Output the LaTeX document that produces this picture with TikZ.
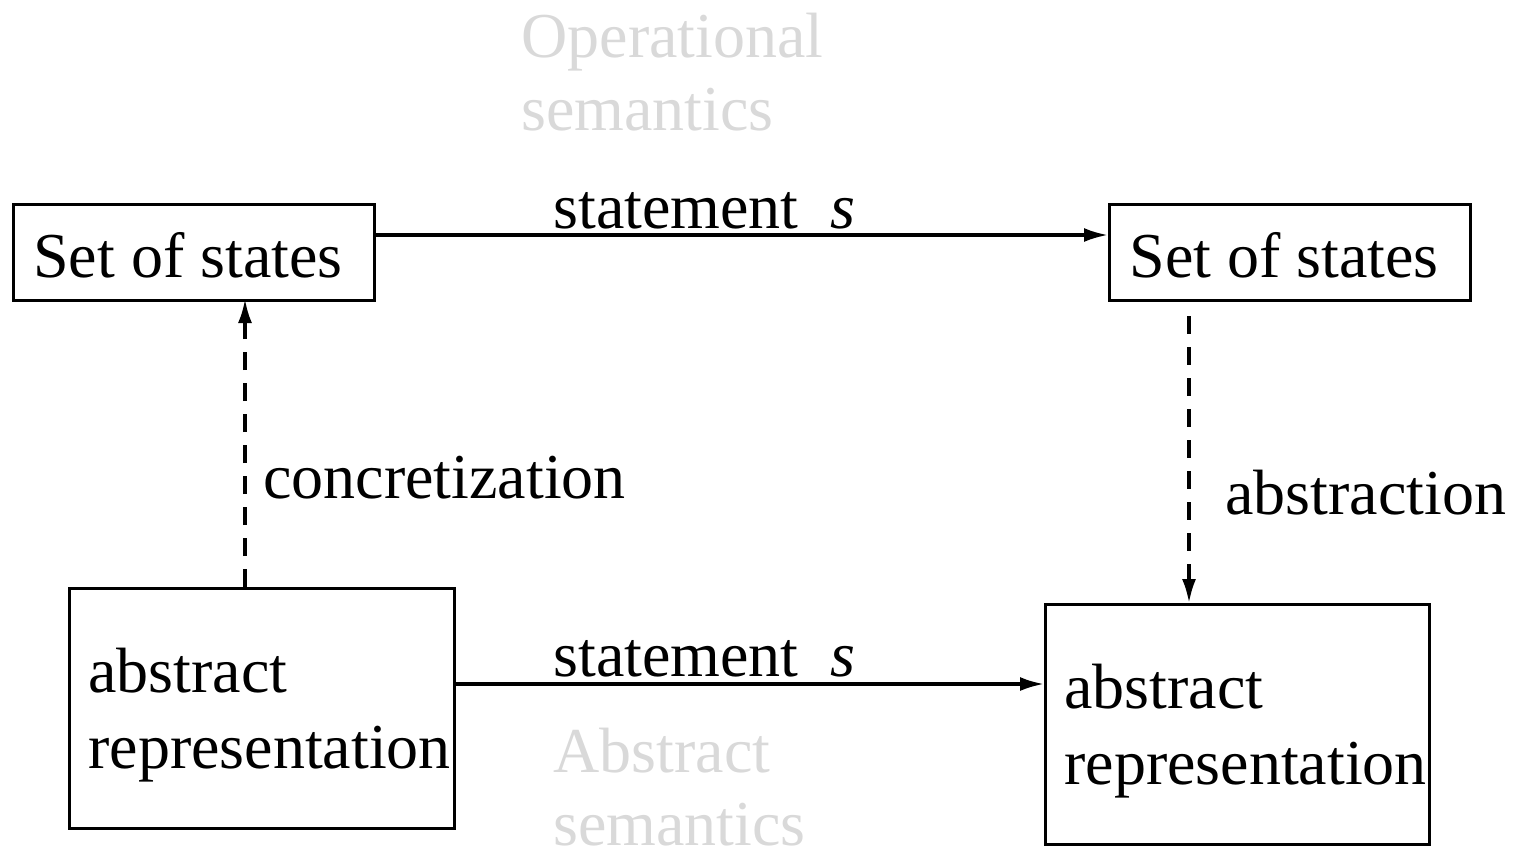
\documentclass[tikz,border=0pt]{standalone}
\usepackage{fontspec}
\setmainfont{Liberation Serif}
\usetikzlibrary{arrows.meta}
\begin{document}
\begin{tikzpicture}[x=0.5pt,y=-0.5pt,
  box/.style={draw,line width=1.6pt,inner sep=0pt,anchor=north west},
  txt/.style={inner sep=0pt,font=\fontsize{32}{38}\selectfont},
  faint/.style={inner sep=0pt,text=black!15,align=left,anchor=north west,font=\fontsize{32}{36.5}\selectfont},
  flow/.style={line width=1.6pt,-{Latex[length=12pt,width=7pt]}},
  link/.style={flow,dash pattern=on 9pt off 6.5pt}]
\useasboundingbox (0,0) rectangle (1513,851);

% boxes
\node[box,minimum width=180.5pt,minimum height=48pt] (tl) at (12,203) {};
\node[box,minimum width=180.5pt,minimum height=48pt] (tr) at (1108,203) {};
\node[box,minimum width=192.5pt,minimum height=120pt] (bl) at (68,587) {};
\node[box,minimum width=192pt,minimum height=120pt] (br) at (1044,603) {};

% box contents
\node[txt,anchor=base west] (tlt) at (33,277) {Set of states};
\node[txt,anchor=base west] (trt) at (1129,277) {Set of states};
\node[txt,anchor=north west,align=left] (blt) at (88,648) {abstract\\representation};
\node[txt,anchor=north west,align=left] (brt) at (1064,664) {abstract\\representation};

% semantics titles
\node[faint] (op) at (521,13) {Operational\\semantics};
\node[faint] (ab) at (553,728) {Abstract\\semantics};

% transitions
\draw[flow] (tl.east |- 0,235) -- (tr.west |- 0,235);
\draw[flow] (bl.east |- 0,684) -- (br.west |- 0,684);
\node[txt,anchor=base west] (s1) at (553,228) {statement\ \ \textit{s}};
\node[txt,anchor=base west] (s2) at (553,676) {statement\ \ \textit{s}};

% concretization / abstraction
\coordinate (ctop) at (245,299);
\draw[link] (bl.north -| ctop) -- (ctop);
\node[txt,anchor=base west] (conc) at (263,498) {concretization};

\coordinate (astart) at (1189,316);
\draw[link] (astart) -- (br.north -| astart);
\node[txt,anchor=base west] (abs) at (1225,514) {abstraction};
\end{tikzpicture}
\end{document}
